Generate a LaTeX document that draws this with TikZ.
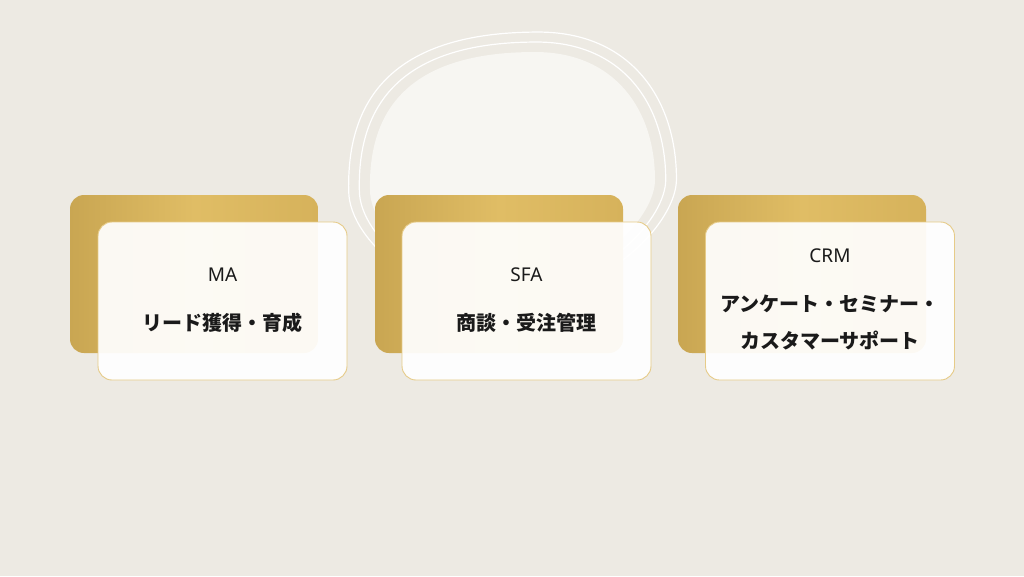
\documentclass[tikz,border=0pt]{standalone}
\usepackage{fontspec}
\newfontfamily\jp{Noto Sans CJK JP}
\newfontfamily\lat{Noto Sans}
\definecolor{bgc}{HTML}{EDEAE3}
\definecolor{blobc}{HTML}{F7F6F2}
\definecolor{goldL}{HTML}{C9A652}
\definecolor{goldM}{HTML}{E0BD65}
\definecolor{goldR}{HTML}{D6B25B}
\definecolor{edgec}{HTML}{E6CB88}
\definecolor{inkc}{HTML}{1A1A1A}
\begin{document}
\begin{tikzpicture}[x=1pt,y=-1pt,
  backcard/.style={shade, left color=goldL, right color=goldR, middle color=goldM,
    rounded corners=14pt, minimum width=248pt, minimum height=158pt, inner sep=0pt},
  frontcard/.style={draw=edgec, line width=0.9pt, fill=white, fill opacity=0.93,
    rounded corners=14pt, minimum width=249pt, minimum height=158pt, inner sep=0pt},
  titletxt/.style={text=inkc, font=\lat\fontsize{19}{23}\selectfont, inner sep=0pt},
  bodytxt/.style={text=inkc, font=\jp\bfseries\fontsize{20}{24}\selectfont, inner sep=0pt},
  blobline/.style={draw=white, line width=1.2pt}]
\useasboundingbox (0,0) rectangle (1024,576);
\fill[bgc] (0,0) rectangle (1024,576);
% blob
\begin{scope}[shift={(512,185)}]
  \fill[blobc] (23,-133) .. controls (103,-133) and (143,-75) .. (143,-5) .. controls (143,30) and (90,90) .. (10,100) .. controls (-70,110) and (-142,50) .. (-142,5) .. controls (-144,-85) and (-92,-133) .. (23,-133) -- cycle;
\end{scope}
\begin{scope}[shift={(512,185)},scale=1.075]
  \draw[blobline] (23,-133) .. controls (103,-133) and (143,-75) .. (143,-5) .. controls (143,30) and (90,90) .. (10,100) .. controls (-70,110) and (-142,50) .. (-142,5) .. controls (-144,-85) and (-92,-133) .. (23,-133) -- cycle;
\end{scope}
\begin{scope}[shift={(512,185)},scale=1.15]
  \draw[blobline] (23,-133) .. controls (103,-133) and (143,-75) .. (143,-5) .. controls (143,30) and (90,90) .. (10,100) .. controls (-70,110) and (-142,50) .. (-142,5) .. controls (-144,-85) and (-92,-133) .. (23,-133) -- cycle;
\end{scope}
% cards
\node[backcard] (b1) at (194,274) {};
\node[frontcard] (f1) at (222.5,301) {};
\node[backcard] (b2) at (499,274) {};
\node[frontcard] (f2) at (526.5,301) {};
\node[backcard] (b3) at (802,274) {};
\node[frontcard] (f3) at (830,301) {};
% texts
\node[titletxt] (t1) at (222.5,275) {MA};
\node[bodytxt] (d1) at (222.5,323) {リード獲得・育成};
\node[titletxt] (t2) at (526.5,275) {SFA};
\node[bodytxt] (d2) at (526.5,323) {商談・受注管理};
\node[titletxt] (t3) at (830,256) {CRM};
\node[bodytxt] (d3a) at (830,304) {アンケート・セミナー・};
\node[bodytxt] (d3b) at (830,341) {カスタマーサポート};
\end{tikzpicture}
\end{document}
